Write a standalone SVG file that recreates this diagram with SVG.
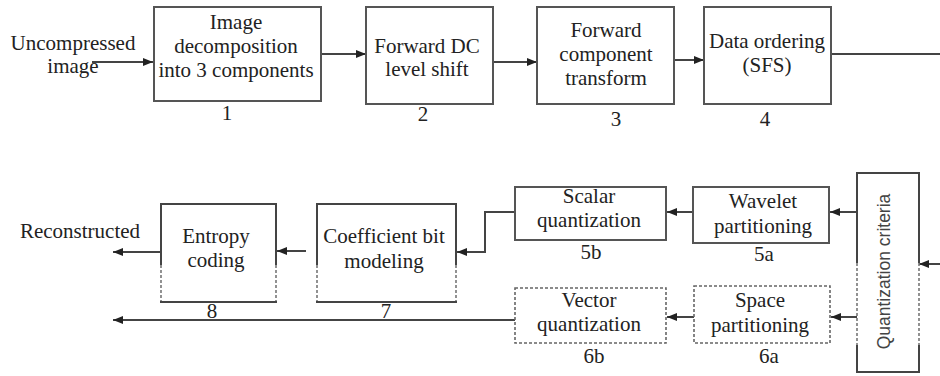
<svg xmlns="http://www.w3.org/2000/svg" width="940" height="376" viewBox="0 0 940 376">
<defs>
<marker id="ah" markerUnits="userSpaceOnUse" markerWidth="12" markerHeight="10" refX="10" refY="4" orient="auto">
<path d="M0,0 L10,4 L0,8 Z" fill="#222"/>
</marker>
<style>
text{font-family:"Liberation Serif","Times New Roman",serif;font-size:21px;fill:#222;text-anchor:middle}
.bx{fill:#fff;stroke:#555;stroke-width:2}
.dbx{fill:none;stroke:#666;stroke-width:1.6;stroke-dasharray:3,2}
.ds{stroke:#777;stroke-width:1.6;stroke-dasharray:3,2;fill:none}
.ln{fill:none;stroke:#444;stroke-width:2}
.arr{fill:none;stroke:#444;stroke-width:2;marker-end:url(#ah)}
.qc{font-family:"Liberation Sans",Arial,sans-serif;font-size:17.5px;fill:#444}
</style>
</defs>
<rect width="940" height="376" fill="#fff"/>

<g id="connectors">
<line class="arr" x1="92" y1="62" x2="153" y2="62"/>
<line class="arr" x1="321" y1="54" x2="366" y2="54"/>
<line class="arr" x1="493" y1="62" x2="537" y2="62"/>
<line class="arr" x1="674" y1="60" x2="704" y2="60"/>
<line class="ln" x1="831" y1="54" x2="940" y2="54"/>
<line class="arr" x1="940" y1="264" x2="919" y2="264"/>
<line class="arr" x1="857" y1="212" x2="830" y2="212"/>
<line class="arr" x1="693" y1="212" x2="667" y2="212"/>
<polyline class="arr" points="515,212 485,212 485,252 457,252"/>
<line class="arr" x1="306" y1="251" x2="277" y2="251"/>
<line class="arr" x1="161" y1="252" x2="113" y2="252"/>
<line class="arr" x1="857" y1="317" x2="831" y2="317"/>
<line class="arr" x1="694" y1="317" x2="667" y2="317"/>
<line class="arr" x1="515" y1="320" x2="113" y2="320"/>
</g>

<text x="73" y="50">Uncompressed</text>
<text x="73" y="73">image</text>
<text x="80" y="238">Reconstructed</text>

<g id="n1">
<rect class="bx" x="154" y="7" width="167" height="94"/>
<text x="236" y="29">Image</text>
<text x="236" y="53">decomposition</text>
<text x="236" y="77">into 3 components</text>
<text x="227" y="120">1</text>
</g>
<g id="n2">
<rect class="bx" x="366" y="7" width="127" height="97"/>
<text x="427" y="53">Forward DC</text>
<text x="427" y="76">level shift</text>
<text x="423" y="121">2</text>
</g>
<g id="n3">
<rect class="bx" x="537" y="7" width="137" height="97"/>
<text x="606" y="37">Forward</text>
<text x="606" y="61">component</text>
<text x="606" y="85">transform</text>
<text x="616" y="126">3</text>
</g>
<g id="n4">
<rect class="bx" x="704" y="7" width="127" height="97"/>
<text x="767" y="48">Data ordering</text>
<text x="767" y="72">(SFS)</text>
<text x="765" y="126">4</text>
</g>

<g id="n5b">
<rect class="bx" x="515" y="187" width="151" height="53"/>
<text x="589" y="203">Scalar</text>
<text x="589" y="227">quantization</text>
<text x="591" y="259">5b</text>
</g>
<g id="n5a">
<rect class="bx" x="693" y="187" width="136" height="56"/>
<text x="763" y="208">Wavelet</text>
<text x="763" y="233">partitioning</text>
<text x="764" y="261">5a</text>
</g>
<g id="n6b">
<rect x="515" y="288" width="151" height="55" fill="#fff"/>
<rect class="dbx" x="515" y="288" width="151" height="55"/>
<text x="589" y="307">Vector</text>
<text x="589" y="331">quantization</text>
<text x="594" y="363">6b</text>
</g>
<g id="n6a">
<rect x="694" y="286" width="136" height="57" fill="#fff"/>
<rect class="dbx" x="694" y="286" width="136" height="57"/>
<text x="760" y="307">Space</text>
<text x="760" y="332">partitioning</text>
<text x="769" y="363">6a</text>
</g>
<g id="n7">
<rect x="317" y="204" width="139" height="98" fill="#fff"/>
<polyline class="ln" points="317,265 317,204 456,204 456,265"/>
<line class="ds" x1="317" y1="265" x2="317" y2="302"/>
<line class="ds" x1="456" y1="265" x2="456" y2="302"/>
<line class="ln" x1="316" y1="302" x2="457" y2="302"/>
<text x="384" y="243">Coefficient bit</text>
<text x="384" y="268">modeling</text>
<text x="386" y="318">7</text>
</g>
<g id="n8">
<rect x="161" y="204" width="115" height="98" fill="#fff"/>
<polyline class="ln" points="161,265 161,204 276,204 276,265"/>
<line class="ds" x1="161" y1="265" x2="161" y2="302"/>
<line class="ds" x1="276" y1="265" x2="276" y2="302"/>
<line class="ln" x1="160" y1="302" x2="277" y2="302"/>
<text x="216" y="243">Entropy</text>
<text x="216" y="267">coding</text>
<text x="212" y="318">8</text>
</g>
<g id="nqc">
<rect x="857" y="173" width="62" height="199" fill="#fff"/>
<polyline class="ln" points="857,263 857,173 919,173 919,263"/>
<line class="ds" x1="857" y1="263" x2="857" y2="345"/>
<line class="ds" x1="919" y1="263" x2="919" y2="345"/>
<polyline class="ln" points="857,345 857,372 919,372 919,345"/>
<text class="qc" transform="translate(890,271.5) rotate(-90)">Quantization criteria</text>
</g>
</svg>
